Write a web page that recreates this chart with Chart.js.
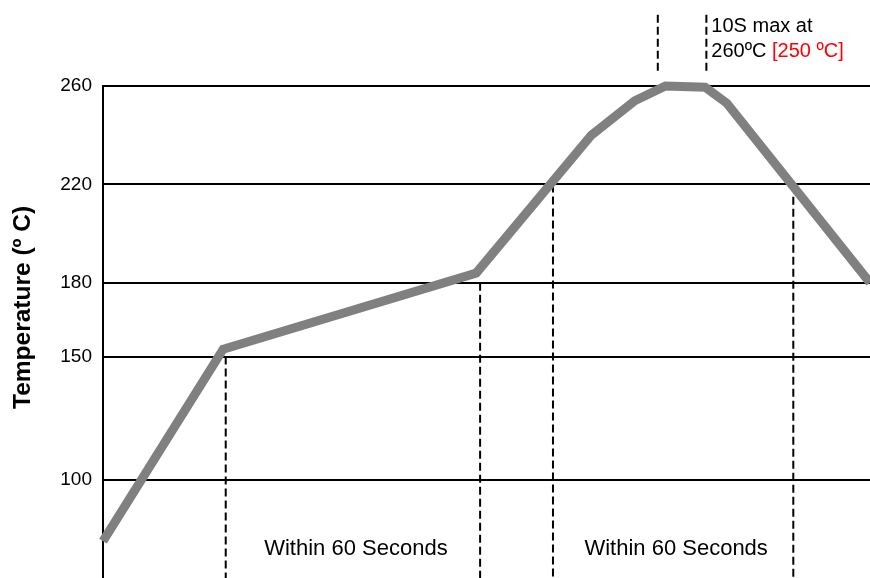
<!DOCTYPE html>
<html>
<head>
<meta charset="utf-8">
<script src="https://cdn.jsdelivr.net/npm/chart.js@4/dist/chart.umd.min.js"></script>
<style>
  html, body { margin: 0; padding: 0; background: #fff; }
  #wrap { width: 870px; height: 578px; position: relative; }
</style>
</head>
<body>
<div id="wrap"><canvas id="profileChart"></canvas></div>
<script>
// reflow profile curve (time in s, temperature in ºC)
const timeSec = [0, 47, 146, 191, 208, 220, 235.5, 244, 300];
const tempC = [75, 153, 184, 240, 254, 260, 259.5, 253, 180];

const yTicks = [100, 150, 180, 220, 260];
const yTitle = 'Temperature (º C)';

// dashed marker lines: time, upper temp, lower temp
const markX = [48, 147.5, 176, 270, 217, 236];
const markTop = [150, 180, 220, 215, 289, 289];
const markBottom = [60, 60, 60, 60, 265, 265];

const zoneLabel = 'Within 60 Seconds';
const peakNote = ['10S max at', '260ºC ', '[250 ºC]'];

const FONT = "Arial, 'Liberation Sans', sans-serif";

const datasets = [{
  data: timeSec.map((t, i) => ({ x: t, y: tempC[i] })),
  borderColor: '#808080',
  borderWidth: 9,
  borderJoinStyle: 'miter',
  borderCapStyle: 'butt',
  pointRadius: 0,
  tension: 0,
  clip: false
}];

markX.forEach((x, i) => {
  datasets.push({
    data: [{ x: x, y: markTop[i] }, { x: x, y: markBottom[i] }],
    borderColor: '#000',
    borderWidth: 2,
    borderDash: [8, 4],
    pointRadius: 0,
    clip: false
  });
});

// text labels drawn on top of the chart
const notesPlugin = {
  id: 'notes',
  afterDraw(chart) {
    const ctx = chart.ctx;
    const xs = chart.scales.x;
    const ys = chart.scales.y;
    ctx.save();
    ctx.fillStyle = '#000';
    ctx.textBaseline = 'middle';

    // axis title, sits a bit above the middle of the axis
    ctx.save();
    ctx.translate(23, ys.getPixelForValue(170));
    ctx.rotate(-Math.PI / 2);
    ctx.font = 'bold 24.5px ' + FONT;
    ctx.textAlign = 'center';
    ctx.fillText(yTitle, 0, 0);
    ctx.restore();

    ctx.font = '22px ' + FONT;
    ctx.textAlign = 'center';
    const yz = ys.getPixelForValue(72);
    ctx.fillText(zoneLabel, (xs.getPixelForValue(markX[0]) + xs.getPixelForValue(markX[1])) / 2 + 3, yz);
    ctx.fillText(zoneLabel, (xs.getPixelForValue(markX[2]) + xs.getPixelForValue(markX[3])) / 2 + 3, yz);

    ctx.font = '20px ' + FONT;
    ctx.textAlign = 'left';
    const x0 = xs.getPixelForValue(markX[5]) + 5;
    ctx.fillText(peakNote[0], x0, ys.getPixelForValue(284));
    const y2 = ys.getPixelForValue(274);
    ctx.fillText(peakNote[1], x0, y2);
    ctx.fillStyle = '#ff0000';
    ctx.fillText(peakNote[2], x0 + ctx.measureText(peakNote[1]).width, y2);
    ctx.restore();
  }
};

const config = {
  type: 'line',
  data: { datasets: datasets },
  options: {
    responsive: true,
    maintainAspectRatio: false,
    animation: false,
    layout: { padding: { top: 86, left: 0, right: 0, bottom: 0 } },
    plugins: {
      legend: { display: false },
      tooltip: { enabled: false }
    },
    scales: {
      x: {
        type: 'linear',
        min: 0,
        max: 300,
        display: false
      },
      y: {
        type: 'linear',
        min: 60,
        max: 260,
        afterBuildTicks: (scale) => { scale.ticks = yTicks.map(v => ({ value: v })); },
        afterFit: (scale) => {
          scale.width = 103;
          scale.paddingTop = 0;
          scale.paddingBottom = 0;
        },
        grid: { color: '#000', lineWidth: 2, drawTicks: false },
        border: { display: true, color: '#000', width: 2 },
        ticks: {
          padding: 11,
          color: '#000',
          font: { family: FONT, size: 19 }
        },
        title: { display: false }
      }
    }
  },
  plugins: [notesPlugin]
};

const profileChart = new Chart(document.getElementById('profileChart'), config);
</script>
</body>
</html>
